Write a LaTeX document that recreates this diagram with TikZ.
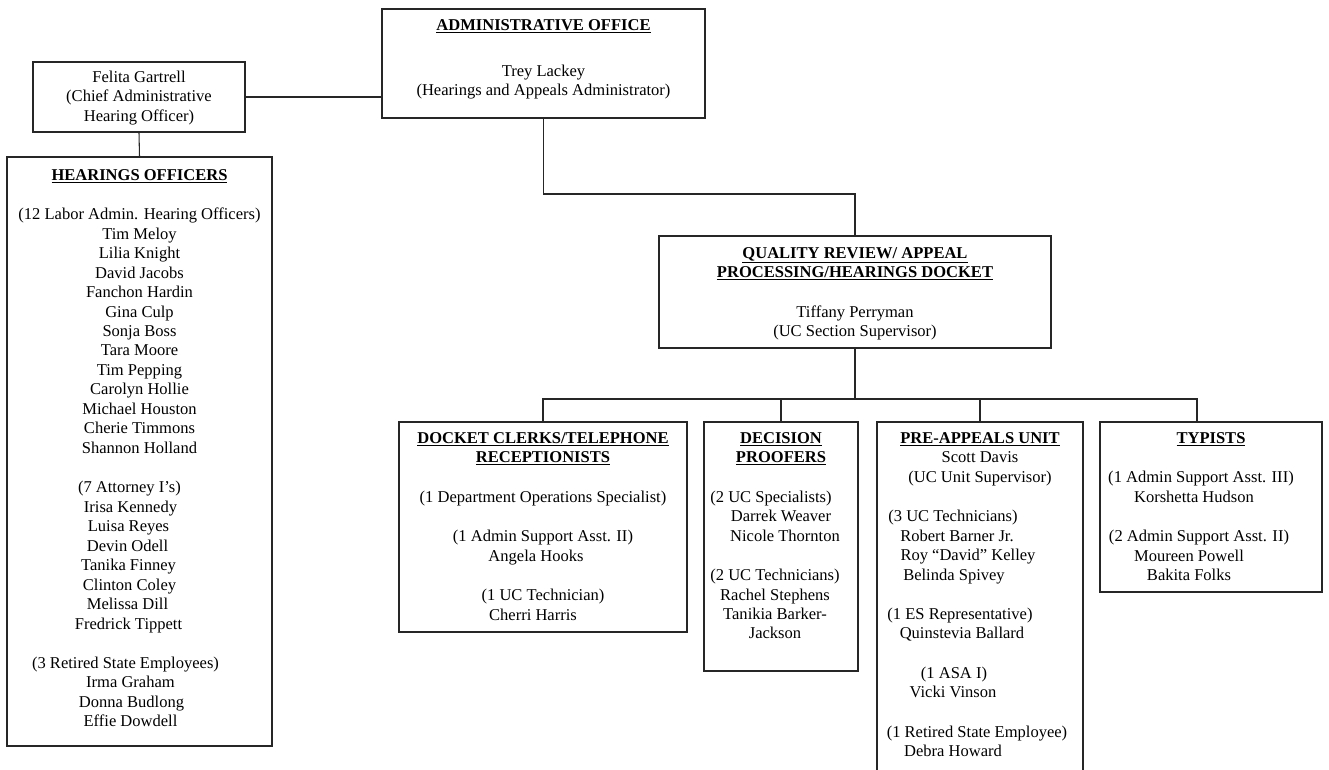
\documentclass[tikz,border=0pt]{standalone}
\usepackage{fontspec}
\setmainfont{Liberation Serif}
\usetikzlibrary{positioning, fit}
\newcommand{\gap}{\\[15pt]}
\newcommand{\mv}[2]{\hspace*{\dimexpr 1.5pt*#1\relax}#2}
\newcommand{\ttl}[1]{\textbf{\underline{#1}}}

\begin{document}
\begin{tikzpicture}[x=0.75pt, y=-0.75pt,
  unit/.style={draw=black!85, line width=0.8pt, inner sep=0pt},
  txt/.style={align=center, inner sep=0pt, anchor=north,
              font=\fontsize{12.4}{14.6}\selectfont},
  link/.style={draw=black!85, line width=0.8pt}
]
\useasboundingbox (0,0) rectangle (1329,770);
\clip (0,0) rectangle (1329,770);

% top level
\node[unit, fit={(33,62) (245,132)}] (felita) {};
\node[txt, anchor=center] (felita-t) at (139,98)
  {Felita Gartrell\\(Chief Administrative\\Hearing Officer)};
\node[unit, fit={(382,9) (705,118)}] (admin) {};
\node[txt] (admin-t) at (543.5,19) {\ttl{ADMINISTRATIVE OFFICE}\\[20pt]
  Trey Lackey\\(Hearings and Appeals Administrator)};

% hearings officers
\node[unit, fit={(7,157) (272,746)}] (hear) {};
\node[txt] (hear-t) at (139.5,169) {\ttl{HEARINGS OFFICERS}\gap
  (12 Labor Admin. Hearing Officers)\\Tim Meloy\\Lilia Knight\\David Jacobs\\
  Fanchon Hardin\\Gina Culp\\Sonja Boss\\Tara Moore\\Tim Pepping\\
  Carolyn Hollie\\Michael Houston\\Cherie Timmons\\Shannon Holland\gap
  \mv{-10}{(7 Attorney I’s)}\\\mv{-9}{Irisa Kennedy}\\\mv{-11}{Luisa Reyes}\\
  \mv{-12}{Devin Odell}\\\mv{-11}{Tanika Finney}\\\mv{-10}{Clinton Coley}\\
  \mv{-12}{Melissa Dill}\\\mv{-11}{Fredrick Tippett}\gap
  \mv{-14}{(3 Retired State Employees)}\\\mv{-9}{Irma Graham}\\
  \mv{-8}{Donna Budlong}\\\mv{-9}{Effie Dowdell}};

% quality review
\node[unit, fit={(659,236) (1051,348)}] (qr) {};
\node[txt] (qr-t) at (855,247) {\ttl{QUALITY REVIEW/ APPEAL}\\
  \ttl{PROCESSING/HEARINGS DOCKET}\gap
  Tiffany Perryman\\(UC Section Supervisor)};

% units
\node[unit, fit={(399,422) (687,632)}] (docket) {};
\node[txt] (docket-t) at (543,432) {\ttl{DOCKET CLERKS/TELEPHONE}\\
  \ttl{RECEPTIONISTS}\gap
  (1 Department Operations Specialist)\gap
  (1 Admin Support Asst. II)\\\mv{-7}{Angela Hooks}\gap
  (1 UC Technician)\\\mv{-10}{Cherri Harris}};

\node[unit, fit={(704,422) (858,671)}] (decision) {};
\node[txt] (decision-t) at (781,432) {\ttl{DECISION}\\\ttl{PROOFERS}\gap
  \mv{-10}{(2 UC Specialists)}\\Darrek Weaver\\\mv{4}{Nicole Thornton}\gap
  \mv{-6}{(2 UC Technicians)}\\\mv{-6}{Rachel Stephens}\\
  \mv{-6}{Tanikia Barker-}\\\mv{-6}{Jackson}};

\node[unit, fit={(877,422) (1083,800)}] (preapp) {};
\node[txt] (preapp-t) at (980,432) {\ttl{PRE-APPEALS UNIT}\\
  Scott Davis\\(UC Unit Supervisor)\gap
  \mv{-27}{(3 UC Technicians)}\\\mv{-23}{Robert Barner Jr.}\\
  \mv{-12}{Roy “David” Kelley}\\\mv{-26}{Belinda Spivey}\gap
  \mv{-20}{(1 ES Representative)}\\\mv{-18}{Quinstevia Ballard}\gap
  \mv{-26}{(1 ASA I)}\\\mv{-27}{Vicki Vinson}\gap
  \mv{-3}{(1 Retired State Employee)}\\\mv{-27}{Debra Howard}};

\node[unit, fit={(1100,422) (1322,592)}] (typists) {};
\node[txt] (typists-t) at (1211,432) {\ttl{TYPISTS}\gap
  \mv{-10}{(1 Admin Support Asst. III)}\\\mv{-17}{Korshetta Hudson}\gap
  \mv{-12}{(2 Admin Support Asst. II)}\\\mv{-22}{Moureen Powell}\\
  \mv{-22}{Bakita Folks}};

% connectors
\coordinate (j1) at (543.5,194);
\coordinate (bus-l) at (543,399);
\coordinate (bus-r) at (1197,399);
\draw[link] (felita.east) -- (felita.east -| admin.west);
\draw[link] (felita.south) -- (hear.north);
\draw[link] (admin.south) -- (j1) -| (qr.north);
\draw[link] (qr.south) -- (qr.south |- bus-l);
\draw[link] (docket.north) |- (bus-r) -- (bus-r |- typists.north);
\draw[link] (decision.north) -- (decision.north |- bus-l);
\draw[link] (preapp.north) -- (preapp.north |- bus-l);
\end{tikzpicture}
\end{document}
